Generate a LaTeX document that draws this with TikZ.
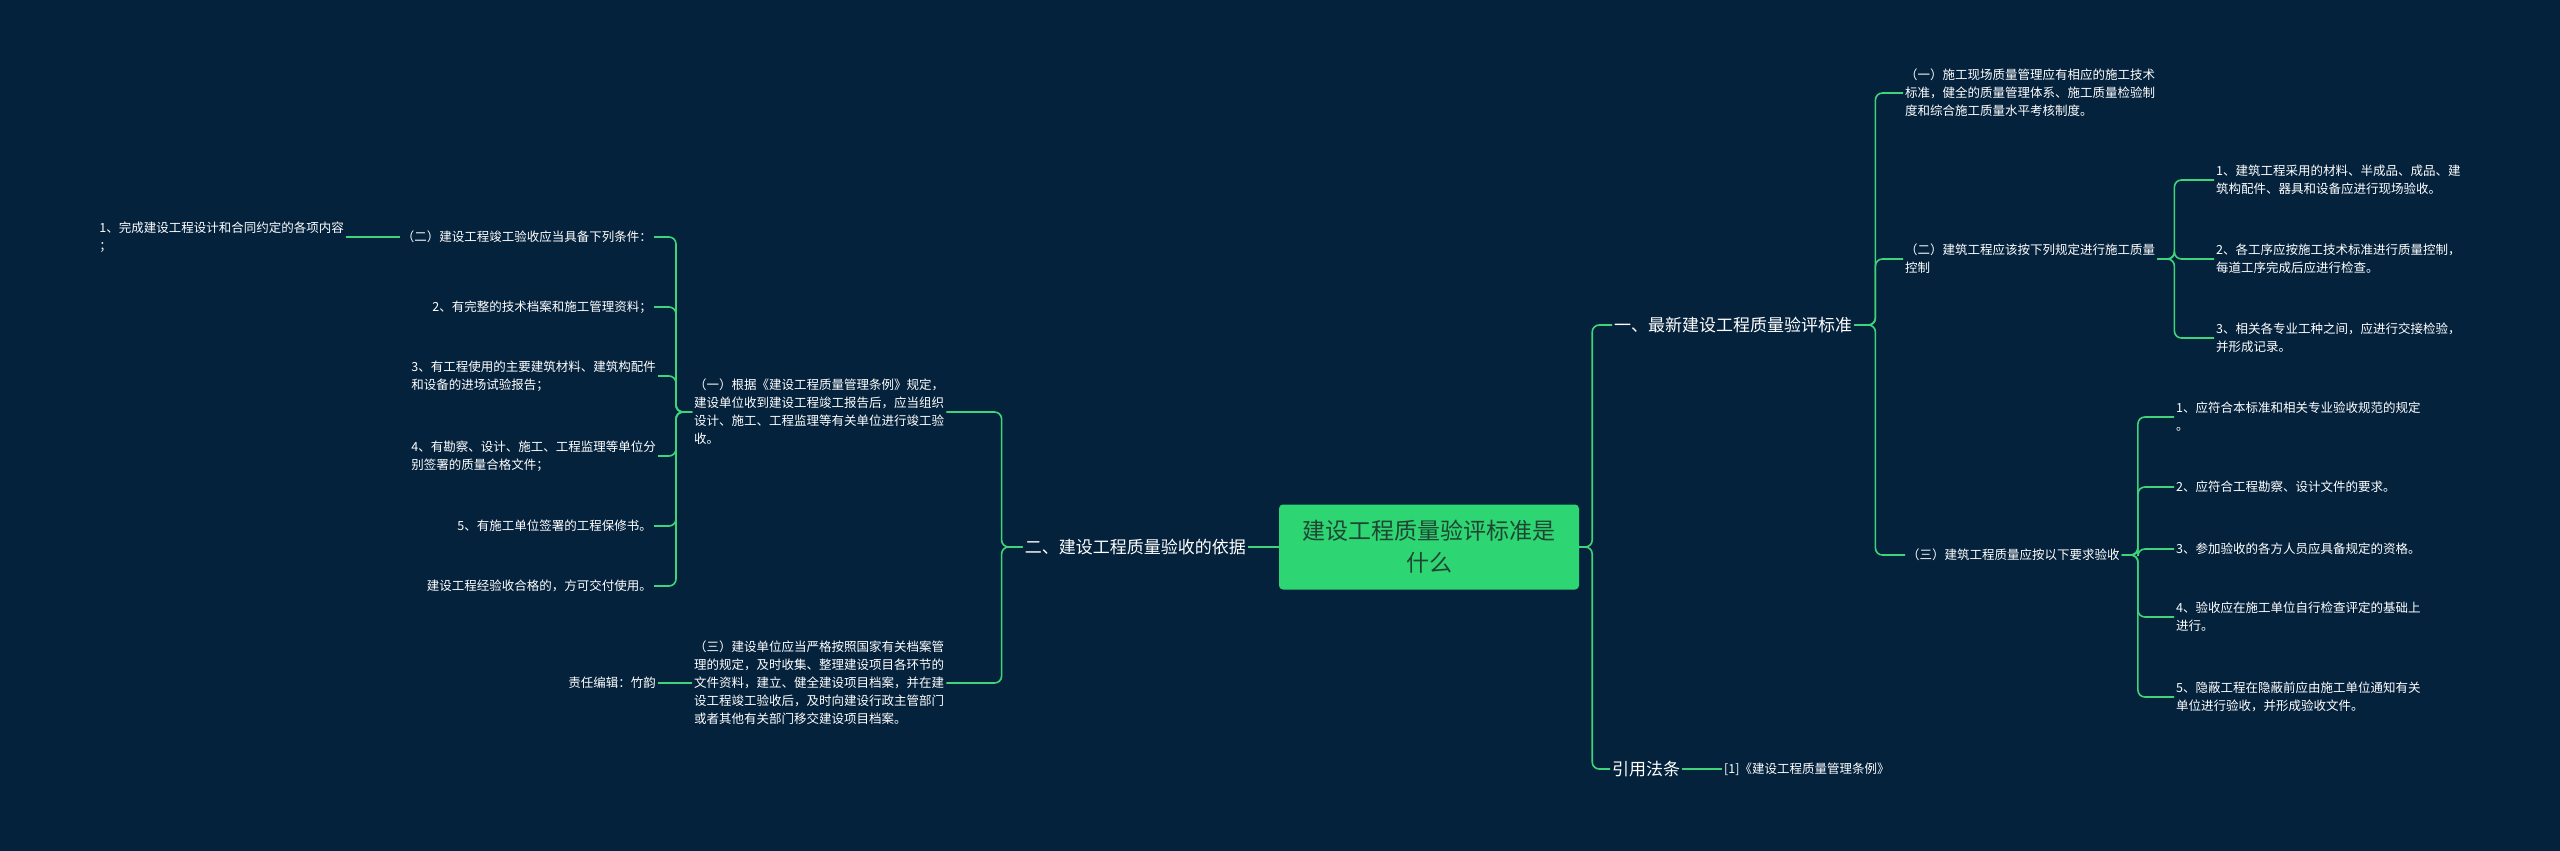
\documentclass[tikz,border=0pt]{standalone}
\usepackage{fontspec}
\setmainfont{Noto Sans CJK SC}
\usetikzlibrary{positioning}
\definecolor{bgblue}{RGB}{4,34,60}
\definecolor{lnk}{RGB}{62,212,122}
\definecolor{rootfill}{RGB}{46,213,115}
\definecolor{roottext}{RGB}{30,70,50}
\tikzset{
  leaf/.style={text=white,font=\fontsize{12.5}{18}\selectfont,inner sep=2pt,align=left},
  branch/.style={text=white,font=\fontsize{17}{22}\selectfont,inner sep=2pt},
  link/.style={draw=lnk,line width=1.6pt,rounded corners=7pt},
}
\begin{document}
\begin{tikzpicture}[x=1pt,y=-1pt]
	\fill [bgblue] (0,0) rectangle (2560,851);
	\useasboundingbox (0,0) rectangle (2560,851);
	% root
	\node [fill=rootfill,rounded corners=4pt,text=roottext,font=\fontsize{23}{32}\selectfont,align=center,minimum width=300pt,minimum height=85pt] (root) at (1429,547) {建设工程质量验评标准是\\什么};
	% right side
	\node [branch,anchor=west] (b1) at (1612,325) {一、最新建设工程质量验评标准};
	\node [branch,anchor=west] (b3) at (1610,769) {引用法条};
	\node [leaf,anchor=west] (ref) at (1722,769) {[1]《建设工程质量管理条例》};
	\node [leaf,anchor=west] (r1) at (1903,93) {（一）施工现场质量管理应有相应的施工技术\\标准，健全的质量管理体系、施工质量检验制\\度和综合施工质量水平考核制度。};
	\node [leaf,anchor=west] (r2) at (1903,259) {（二）建筑工程应该按下列规定进行施工质量\\控制};
	\node [leaf,anchor=west] (r3) at (1905,555) {（三）建筑工程质量应按以下要求验收};
	\node [leaf,anchor=west] (r21) at (2214,180) {1、建筑工程采用的材料、半成品、成品、建\\筑构配件、器具和设备应进行现场验收。};
	\node [leaf,anchor=west] (r22) at (2214,259) {2、各工序应按施工技术标准进行质量控制，\\每道工序完成后应进行检查。};
	\node [leaf,anchor=west] (r23) at (2214,338) {3、相关各专业工种之间，应进行交接检验，\\并形成记录。};
	\node [leaf,anchor=west] (r31) at (2174,417) {1、应符合本标准和相关专业验收规范的规定\\。};
	\node [leaf,anchor=west] (r32) at (2174,487) {2、应符合工程勘察、设计文件的要求。};
	\node [leaf,anchor=west] (r33) at (2174,549) {3、参加验收的各方人员应具备规定的资格。};
	\node [leaf,anchor=west] (r34) at (2174,617) {4、验收应在施工单位自行检查评定的基础上\\进行。};
	\node [leaf,anchor=west] (r35) at (2174,697) {5、隐蔽工程在隐蔽前应由施工单位通知有关\\单位进行验收，并形成验收文件。};
	% left side
	\node [branch,anchor=east] (b2) at (1248,547) {二、建设工程质量验收的依据};
	\node [leaf,anchor=west] (l1) at (692,412) {（一）根据《建设工程质量管理条例》规定，\\建设单位收到建设工程竣工报告后，应当组织\\设计、施工、工程监理等有关单位进行竣工验\\收。};
	\node [leaf,anchor=west] (l3) at (692,683) {（三）建设单位应当严格按照国家有关档案管\\理的规定，及时收集、整理建设项目各环节的\\文件资料，建立、健全建设项目档案，并在建\\设工程竣工验收后，及时向建设行政主管部门\\或者其他有关部门移交建设项目档案。};
	\node [leaf,anchor=east] (l31) at (658,683) {责任编辑：竹韵};
	\node [leaf,anchor=east] (l11) at (654,237) {（二）建设工程竣工验收应当具备下列条件：};
	\node [leaf,anchor=east] (l12) at (654,307) {2、有完整的技术档案和施工管理资料；};
	\node [leaf,anchor=east] (l13) at (658,376) {3、有工程使用的主要建筑材料、建筑构配件\\和设备的进场试验报告；};
	\node [leaf,anchor=east] (l14) at (658,456) {4、有勘察、设计、施工、工程监理等单位分\\别签署的质量合格文件；};
	\node [leaf,anchor=east] (l15) at (654,526) {5、有施工单位签署的工程保修书。};
	\node [leaf,anchor=east] (l16) at (654,586) {建设工程经验收合格的，方可交付使用。};
	\node [leaf,anchor=east] (l111) at (346,237) {1、完成建设工程设计和合同约定的各项内容\\；};
	% connectors
	\draw [link] (root.east) -- ++(13,0) |- (b1.west);
	\draw [link] (root.east) -- ++(13,0) |- (b3.west);
	\draw [link] (b3.east) -- (ref.west);
	\foreach \c in {r1,r2,r3}
		\draw [link] (b1.east) -- ++(21,0) |- (\c.west);
	\foreach \c in {r21,r22,r23}
		\draw [link] (r2.east) -- ++(17,0) |- (\c.west);
	\foreach \c in {r31,r32,r33,r34,r35}
		\draw [link] (r3.east) -- ++(16,0) |- (\c.west);
	\draw [link] (root.west) -- (b2.east);
	\foreach \c in {l1,l3}
		\draw [link] (b2.west) -- ++(-21,0) |- (\c.east);
	\draw [link] (l3.west) -- (l31.east);
	\foreach \c in {l11,l12,l13,l14,l15,l16}
		\draw [link] (l1.west) -- ++(-16,0) |- (\c.east);
	\draw [link] (l11.west) -- (l111.east);
\end{tikzpicture}
\end{document}
